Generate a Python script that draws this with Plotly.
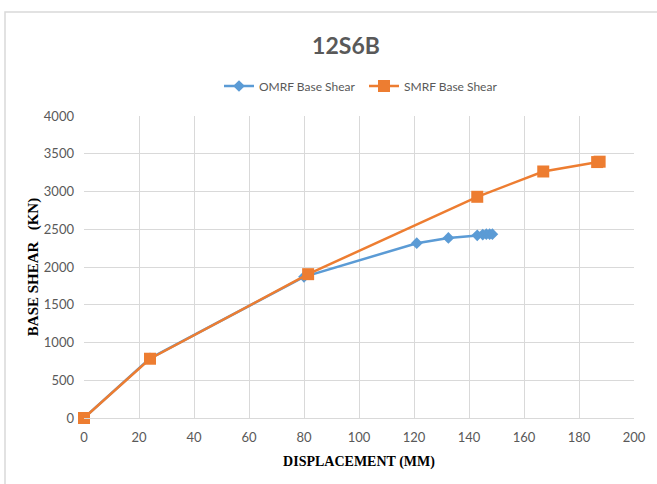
import plotly.graph_objects as go

# Pushover curves for building 12S6B
omrf_disp = [0, 24, 80, 121, 132.5, 143, 145, 146.3, 147.5, 148.5]
omrf_shear = [0, 790, 1870, 2315, 2385, 2420, 2430, 2435, 2435, 2435]

smrf_disp = [0, 24, 81.5, 143, 167, 186.6, 187.5]
smrf_shear = [0, 785, 1905, 2930, 3265, 3390, 3395]

x_ticks = list(range(0, 201, 20))
y_ticks = list(range(0, 4001, 500))

BLUE = "#5B9BD5"
ORANGE = "#ED7D31"
GRAY_TXT = "#595959"
GRID = "#D9D9D9"

fig = go.Figure()
fig.add_trace(go.Scatter(
    x=omrf_disp, y=omrf_shear, name="OMRF Base Shear",
    mode="lines+markers",
    line=dict(color=BLUE, width=2.5),
    marker=dict(symbol="diamond", size=9, color=BLUE),
    cliponaxis=False,
))
fig.add_trace(go.Scatter(
    x=smrf_disp, y=smrf_shear, name="SMRF Base Shear",
    mode="lines+markers",
    line=dict(color=ORANGE, width=2.5),
    marker=dict(symbol="square", size=12, color=ORANGE),
    cliponaxis=False,
))

L, R, T, B = 84, 23, 116, 66
W, H = 657, 484
pw, ph = W - L - R, H - T - B

# light outer chart frame
fig.add_shape(
    type="rect", xref="paper", yref="paper",
    x0=(5 - L) / pw, x1=(W + 10 - L) / pw,
    y0=-(H + 10 - (H - B)) / ph, y1=((H - B) - 12) / ph,
    line=dict(color="#D9D9D9", width=1.5), fillcolor="rgba(0,0,0,0)",
    layer="below",
)

fig.update_layout(
    width=W, height=H,
    margin=dict(l=L, r=R, t=T, b=B),
    paper_bgcolor="white", plot_bgcolor="white",
    font=dict(family="Lato", size=13, color=GRAY_TXT),
    title=dict(
        text="<b>12S6B</b>", x=346 / W, xanchor="center",
        y=1 - 46 / H, yanchor="middle",
        font=dict(family="Lato", size=23, color=GRAY_TXT),
    ),
    legend=dict(
        orientation="h", x=(364 - L) / pw, xanchor="center",
        y=((H - B) - 86) / ph, yanchor="middle",
        font=dict(family="Lato", size=12, color=GRAY_TXT),
        itemwidth=30, entrywidth=100, entrywidthmode="pixels",
    ),
    showlegend=True,
)

fig.update_xaxes(
    range=[0, 200], tickvals=x_ticks, ticktext=[str(v) for v in x_ticks],
    showgrid=True, gridcolor=GRID, gridwidth=1,
    zeroline=False, showline=True, linecolor=GRID, linewidth=1,
    ticks="", ticklabelstandoff=7,
    tickfont=dict(family="Lato", size=13, color=GRAY_TXT),
    title=dict(text="<b>DISPLACEMENT (MM)</b>", standoff=12,
               font=dict(family="Liberation Serif", size=14, color="black")),
)
fig.update_yaxes(
    range=[0, 4000], tickvals=y_ticks, ticktext=[str(v) for v in y_ticks],
    showgrid=True, gridcolor=GRID, gridwidth=1,
    zeroline=False, showline=False,
    ticks="", ticklabelstandoff=9,
    tickfont=dict(family="Lato", size=13, color=GRAY_TXT),
    title=dict(text="<b>BASE SHEAR&nbsp;&nbsp;&nbsp;(KN)</b>", standoff=1,
               font=dict(family="Liberation Serif", size=15, color="black")),
)

fig.write_html("out.html")
